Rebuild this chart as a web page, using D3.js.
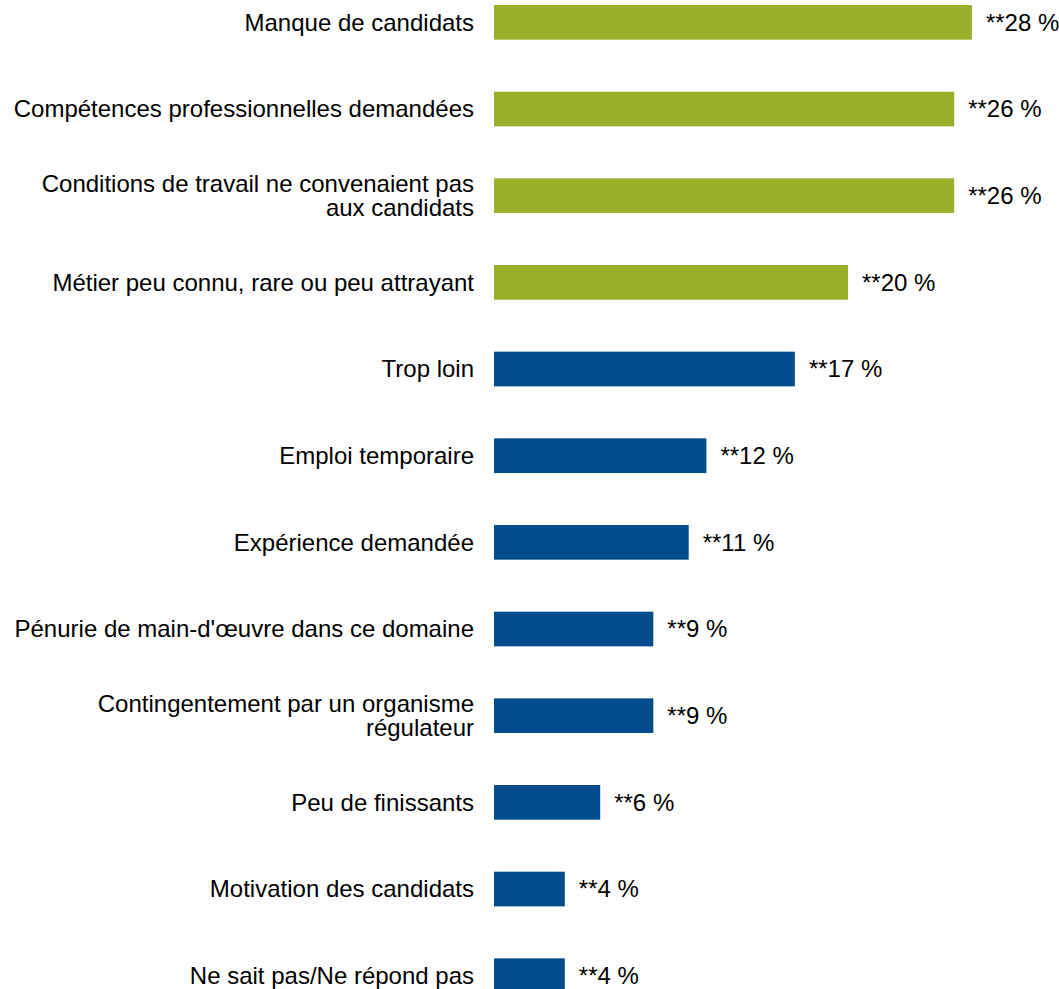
<!DOCTYPE html>
<html>
<head>
<meta charset="utf-8">
<script src="https://cdn.jsdelivr.net/npm/d3@7"></script>
<style>
  html, body { margin: 0; padding: 0; background: #fff; }
  svg { display: block; }
</style>
</head>
<body>
<svg id="chart" width="1059" height="989"></svg>
<script>
const categories = [
  ["Manque de candidats"],
  ["Compétences professionnelles demandées"],
  ["Conditions de travail ne convenaient pas", "aux candidats"],
  ["Métier peu connu, rare ou peu attrayant"],
  ["Trop loin"],
  ["Emploi temporaire"],
  ["Expérience demandée"],
  ["Pénurie de main-d'œuvre dans ce domaine"],
  ["Contingentement par un organisme", "régulateur"],
  ["Peu de finissants"],
  ["Motivation des candidats"],
  ["Ne sait pas/Ne répond pas"]
];
const values = [27, 26, 26, 20, 17, 12, 11, 9, 9, 6, 4, 4];
const valueLabels = ["**28 %", "**26 %", "**26 %", "**20 %", "**17 %", "**12 %", "**11 %", "**9 %", "**9 %", "**6 %", "**4 %", "**4 %"];
const groups = ["green", "green", "green", "green", "blue", "blue", "blue", "blue", "blue", "blue", "blue", "blue"];

const colors = { green: "#9AB02C", blue: "#004C8D" };
const fontFamily = "'Liberation Sans', Arial, sans-serif";
const fontSize = 24;

const svg = d3.select("#chart");
const idx = d3.range(categories.length);

const x = d3.scaleLinear().domain([0, 30]).range([494, 494 + 531]);
const y = d3.scaleBand().domain(idx).range([-21, -21 + 12 * 86.67]).paddingInner(0.6).paddingOuter(0.3);

svg.selectAll("rect.bar")
  .data(idx)
  .join("rect")
  .attr("class", "bar")
  .attr("x", x(0))
  .attr("y", i => y(i))
  .attr("width", i => x(values[i]) - x(0))
  .attr("height", y.bandwidth())
  .attr("fill", i => colors[groups[i]]);

svg.selectAll("text.val")
  .data(idx)
  .join("text")
  .attr("class", "val")
  .attr("x", i => x(values[i]) + 14)
  .attr("y", i => y(i) + y.bandwidth() / 2)
  .attr("dy", "0.35em")
  .attr("font-family", fontFamily)
  .attr("font-size", fontSize)
  .attr("fill", "#000")
  .text(i => valueLabels[i]);

const lineH = 24.3;
const cat = svg.selectAll("text.cat")
  .data(idx)
  .join("text")
  .attr("class", "cat")
  .attr("text-anchor", "end")
  .attr("font-family", fontFamily)
  .attr("font-size", fontSize)
  .attr("fill", "#000");

cat.each(function(i) {
  const lines = categories[i];
  const cy = y(i) + y.bandwidth() / 2;
  const t = d3.select(this);
  lines.forEach((ln, k) => {
    t.append("tspan")
      .attr("x", x(0) - 20)
      .attr("y", cy + (k - (lines.length - 1) / 2) * lineH)
      .attr("dy", "0.35em")
      .text(ln);
  });
});
</script>
</body>
</html>
